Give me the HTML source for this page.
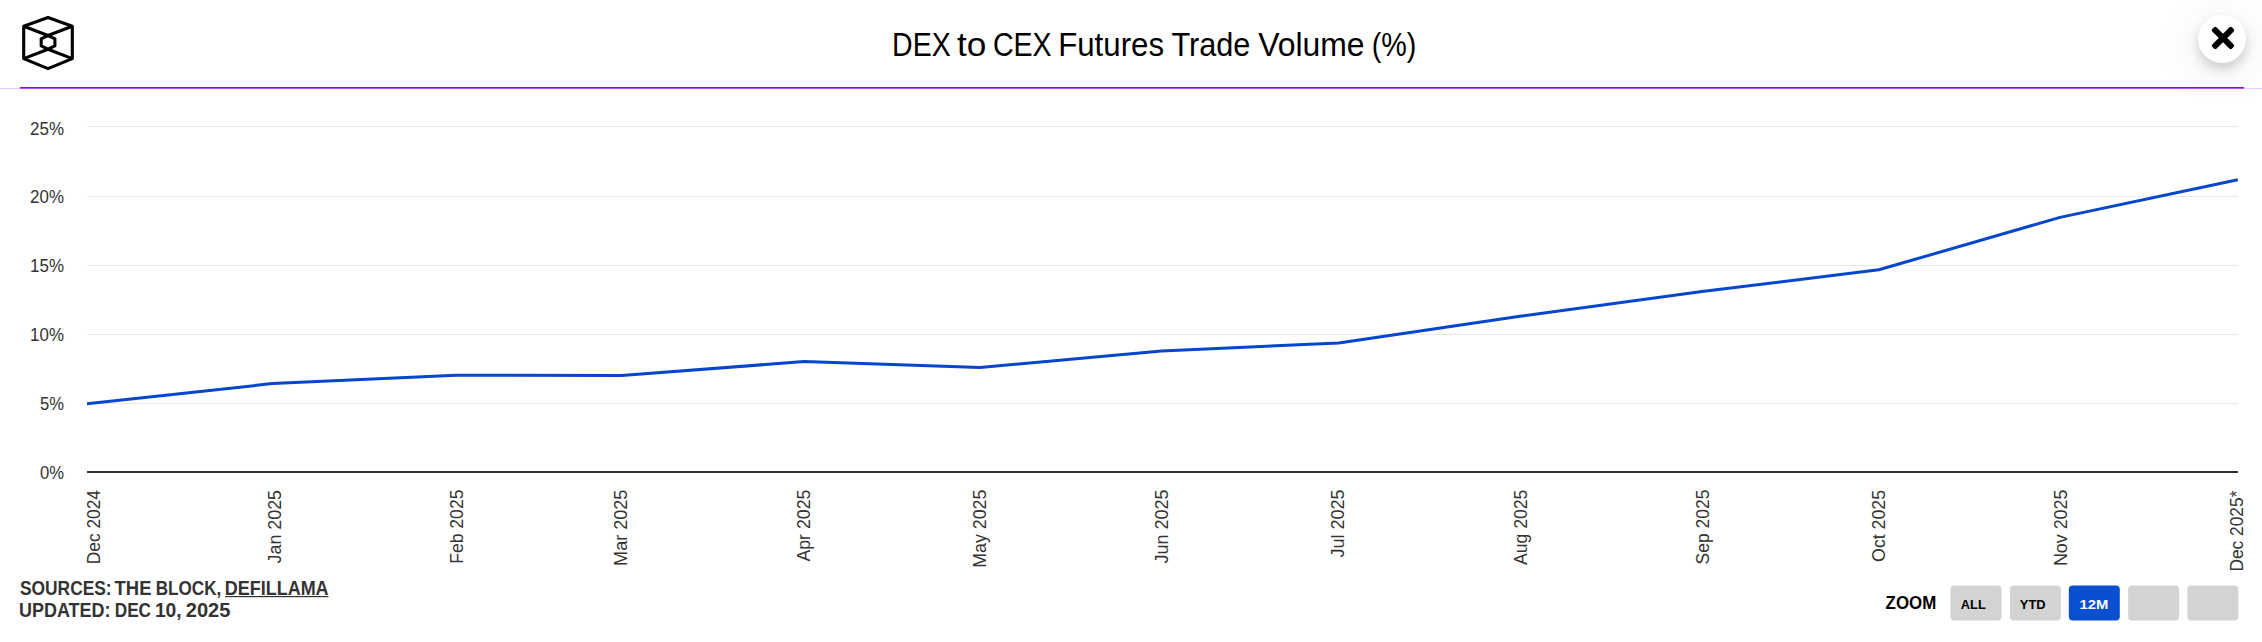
<!DOCTYPE html>
<html>
<head>
<meta charset="utf-8">
<style>
html,body{margin:0;padding:0;background:#fff;}
body{width:2262px;height:642px;overflow:hidden;position:relative;font-family:"Liberation Sans",sans-serif;}
svg{position:absolute;left:0;top:0;}
.close{position:absolute;left:2198px;top:15px;width:48px;height:48px;border-radius:50%;background:#fff;box-shadow:0 6px 12px rgba(0,0,0,0.18),0 8px 50px rgba(0,0,0,0.09);}
</style>
</head>
<body>
<div class="close"></div>
<svg width="2262" height="642" viewBox="0 0 2262 642" font-family="Liberation Sans, sans-serif">
  <!-- logo -->
  <g fill="none" stroke="#000" stroke-width="3.1" stroke-linejoin="round">
    <path d="M48 17.5 L72.3 26.2 L72.3 58.6 L48 68.6 L23.7 58.6 L23.7 26.2 Z"/>
    <path d="M23.7 26.2 L48 35.5 L72.3 26.2"/>
    <path d="M23.7 58.6 L48 49.2 L72.3 58.6"/>
    <path d="M48 35.5 L54.9 38.8 L54.9 45.9 L48 49.2 L41.2 45.9 L41.2 38.8 Z"/>
  </g>
  <!-- title -->
  <g font-size="33" fill="#000">
    <text x="892.08" y="55.8" textLength="58.56" lengthAdjust="spacingAndGlyphs">DEX</text>
    <text x="956.98" y="55.8" textLength="29.35" lengthAdjust="spacingAndGlyphs">to</text>
    <text x="992.93" y="55.8" textLength="58.70" lengthAdjust="spacingAndGlyphs">CEX</text>
    <text x="1058.13" y="55.8" textLength="105.92" lengthAdjust="spacingAndGlyphs">Futures</text>
    <text x="1171.38" y="55.8" textLength="79.05" lengthAdjust="spacingAndGlyphs">Trade</text>
    <text x="1258.19" y="55.8" textLength="106.43" lengthAdjust="spacingAndGlyphs">Volume</text>
    <text x="1371.63" y="55.8" textLength="44.55" lengthAdjust="spacingAndGlyphs">(%)</text>
  </g>
  <!-- header lines -->
  <rect x="0" y="88" width="2262" height="1" fill="#e8c9ff"/>
  <rect x="20" y="87" width="2224" height="1.6" fill="#9900ff"/>
  <!-- close X -->
  <g fill="#000" transform="translate(2223 37.95)">
    <rect x="-13.9" y="-3" width="27.8" height="6" rx="2" transform="rotate(45)"/>
    <rect x="-13.9" y="-3" width="27.8" height="6" rx="2" transform="rotate(-45)"/>
  </g>
  <!-- grid -->
  <g fill="#e8e8e8">
    <rect x="87" y="126" width="2151" height="1"/>
    <rect x="87" y="196" width="2151" height="1"/>
    <rect x="87" y="265" width="2151" height="1"/>
    <rect x="87" y="334" width="2151" height="1"/>
    <rect x="87" y="403" width="2151" height="1"/>
  </g>
  <rect x="87" y="471" width="2151" height="2" fill="#333"/>
  <!-- y labels -->
  <g font-size="18" fill="#333" text-anchor="end">
    <text x="64" y="134.5" textLength="33.9" lengthAdjust="spacingAndGlyphs">25%</text>
    <text x="64" y="203.3" textLength="33.9" lengthAdjust="spacingAndGlyphs">20%</text>
    <text x="64" y="272.1" textLength="33.9" lengthAdjust="spacingAndGlyphs">15%</text>
    <text x="64" y="340.9" textLength="33.9" lengthAdjust="spacingAndGlyphs">10%</text>
    <text x="64" y="409.7" textLength="24.0" lengthAdjust="spacingAndGlyphs">5%</text>
    <text x="64" y="478.5" textLength="24.0" lengthAdjust="spacingAndGlyphs">0%</text>
  </g>
  <!-- series -->
  <polyline fill="none" stroke="#0546cc" stroke-width="3" stroke-linejoin="round"
    points="87,403.7 272.5,383.6 456,375.3 621.5,375.4 804,361.6 980,367.6 1161.5,350.9 1338.7,342.9 1520,316.2 1702,291.6 1878.8,269.8 2060,217.4 2237.8,179.7"/>
  <!-- x labels -->
  <g font-size="18" fill="#333" text-anchor="end">
    <text transform="translate(99.7 490) rotate(-90)" textLength="74.3" lengthAdjust="spacingAndGlyphs">Dec 2024</text>
    <text transform="translate(280.5 490) rotate(-90)" textLength="73.4" lengthAdjust="spacingAndGlyphs">Jan 2025</text>
    <text transform="translate(462.5 489.6) rotate(-90)" textLength="74.2" lengthAdjust="spacingAndGlyphs">Feb 2025</text>
    <text transform="translate(627.4 489.6) rotate(-90)" textLength="76.3" lengthAdjust="spacingAndGlyphs">Mar 2025</text>
    <text transform="translate(810.4 489.6) rotate(-90)" textLength="72.0" lengthAdjust="spacingAndGlyphs">Apr 2025</text>
    <text transform="translate(985.6 489.6) rotate(-90)" textLength="78.2" lengthAdjust="spacingAndGlyphs">May 2025</text>
    <text transform="translate(1167.9 489.6) rotate(-90)" textLength="73.9" lengthAdjust="spacingAndGlyphs">Jun 2025</text>
    <text transform="translate(1344.2 489.6) rotate(-90)" textLength="68.0" lengthAdjust="spacingAndGlyphs">Jul 2025</text>
    <text transform="translate(1527 489.6) rotate(-90)" textLength="75.5" lengthAdjust="spacingAndGlyphs">Aug 2025</text>
    <text transform="translate(1708.7 489.6) rotate(-90)" textLength="74.8" lengthAdjust="spacingAndGlyphs">Sep 2025</text>
    <text transform="translate(1884.8 490) rotate(-90)" textLength="71.9" lengthAdjust="spacingAndGlyphs">Oct 2025</text>
    <text transform="translate(2067.2 489.6) rotate(-90)" textLength="76.5" lengthAdjust="spacingAndGlyphs">Nov 2025</text>
    <text transform="translate(2242.8 490.6) rotate(-90)" textLength="81.0" lengthAdjust="spacingAndGlyphs">Dec 2025*</text>
  </g>
  <!-- footer -->
  <g font-size="20" font-weight="bold" fill="#333">
    <text x="19.99" y="594.8" textLength="91.66" lengthAdjust="spacingAndGlyphs">SOURCES:</text>
    <text x="114.60" y="594.8" textLength="36.84" lengthAdjust="spacingAndGlyphs">THE</text>
    <text x="155.75" y="594.8" textLength="65.50" lengthAdjust="spacingAndGlyphs">BLOCK,</text>
    <text x="224.78" y="594.8" textLength="103.83" lengthAdjust="spacingAndGlyphs">DEFILLAMA</text>
    <text x="18.94" y="616.7" textLength="91.54" lengthAdjust="spacingAndGlyphs">UPDATED:</text>
    <text x="114.71" y="616.7" textLength="36.35" lengthAdjust="spacingAndGlyphs">DEC</text>
    <text x="154.93" y="616.7" textLength="26.74" lengthAdjust="spacingAndGlyphs">10,</text>
    <text x="185.74" y="616.7" textLength="44.70" lengthAdjust="spacingAndGlyphs">2025</text>
  </g>
  <rect x="225" y="596" width="103.5" height="1.2" fill="#333"/>
  <!-- zoom -->
  <text x="1885.6" y="608.7" font-size="18" font-weight="bold" fill="#000" textLength="50.6" lengthAdjust="spacingAndGlyphs">ZOOM</text>
  <g>
    <rect x="1950.5" y="585.5" width="51" height="35" rx="4" fill="#d3d3d3"/>
    <rect x="2009.9" y="585.5" width="51" height="35" rx="4" fill="#d3d3d3"/>
    <rect x="2068.8" y="585.5" width="51" height="35" rx="4" fill="#0b4fd1"/>
    <rect x="2128.1" y="585.5" width="51" height="35" rx="4" fill="#d3d3d3"/>
    <rect x="2187.3" y="585.5" width="51" height="35" rx="4" fill="#d3d3d3"/>
  </g>
  <g font-size="12" font-weight="bold" text-anchor="middle">
    <text x="1973.3" y="608.7" fill="#000" textLength="24.9" lengthAdjust="spacingAndGlyphs">ALL</text>
    <text x="2032.7" y="608.7" fill="#000" textLength="25.8" lengthAdjust="spacingAndGlyphs">YTD</text>
    <text x="2094" y="608.7" fill="#fff" textLength="28.8" lengthAdjust="spacingAndGlyphs">12M</text>
  </g>
</svg>
</body>
</html>
